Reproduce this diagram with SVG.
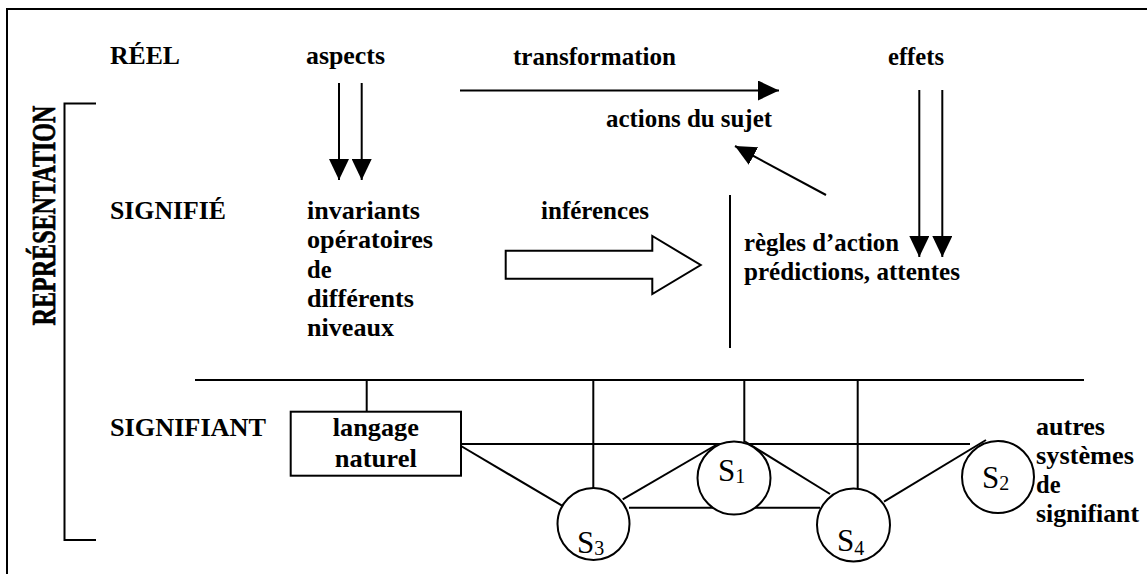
<svg xmlns="http://www.w3.org/2000/svg" width="1147" height="574" viewBox="0 0 1147 574">
<style>
.ln{stroke:#000;stroke-width:2;fill:none}
.c{stroke:#000;stroke-width:2;fill:#fff}
</style>
<defs>
<marker id="ah" markerUnits="userSpaceOnUse" markerWidth="22" markerHeight="20" refX="21" refY="10" orient="auto">
<path d="M0,0 L21,10 L0,20 z" fill="#000"/>
</marker>
</defs>
<rect width="1147" height="574" fill="#fff"/>
<g id="frame">
<path class="ln" d="M7,574 V9 H1147"/>
<path class="ln" d="M96,103.5 H64.5 V540 H96"/>
<text style="font-family:'Liberation Serif',serif;font-weight:bold;font-size:33px" fill="#000" stroke="#000" stroke-width="0.7" transform="translate(55,215.5) rotate(-90)" text-anchor="middle" textLength="220" lengthAdjust="spacingAndGlyphs">REPRÉSENTATION</text>
</g>
<g style="font-family:'Liberation Serif',serif;font-weight:bold;font-size:25px" fill="#000">
<g id="labels">
<text x="110" y="64" textLength="70" lengthAdjust="spacingAndGlyphs">RÉEL</text>
<text x="110" y="219" textLength="116" lengthAdjust="spacingAndGlyphs">SIGNIFIÉ</text>
<text x="110" y="436" textLength="156" lengthAdjust="spacingAndGlyphs">SIGNIFIANT</text>
</g>
<g id="node-aspects"><text x="306" y="64" textLength="79" lengthAdjust="spacingAndGlyphs">aspects</text></g>
<g id="node-transformation"><text x="513" y="65" textLength="163" lengthAdjust="spacingAndGlyphs">transformation</text></g>
<g id="node-effets"><text x="888" y="65" textLength="56" lengthAdjust="spacingAndGlyphs">effets</text></g>
<g id="node-actions"><text x="606" y="127" textLength="166" lengthAdjust="spacingAndGlyphs">actions du sujet</text></g>
<g id="node-invariants">
<text x="307" y="219" textLength="113" lengthAdjust="spacingAndGlyphs">invariants</text>
<text x="307" y="248.3" textLength="126" lengthAdjust="spacingAndGlyphs">opératoires</text>
<text x="307" y="277.5" textLength="24.5" lengthAdjust="spacingAndGlyphs">de</text>
<text x="307" y="306.7" textLength="107" lengthAdjust="spacingAndGlyphs">différents</text>
<text x="307" y="336" textLength="87" lengthAdjust="spacingAndGlyphs">niveaux</text>
</g>
<g id="node-inferences"><text x="541" y="219" textLength="108" lengthAdjust="spacingAndGlyphs">inférences</text></g>
<g id="node-regles">
<text x="744" y="250.5" textLength="155" lengthAdjust="spacingAndGlyphs">règles d’action</text>
<text x="744" y="280" textLength="216" lengthAdjust="spacingAndGlyphs">prédictions, attentes</text>
</g>
<g id="node-autres">
<text x="1036" y="435" textLength="69" lengthAdjust="spacingAndGlyphs">autres</text>
<text x="1036" y="464" textLength="98" lengthAdjust="spacingAndGlyphs">systèmes</text>
<text x="1036" y="493" textLength="24.5" lengthAdjust="spacingAndGlyphs">de</text>
<text x="1036" y="522" textLength="103" lengthAdjust="spacingAndGlyphs">signifiant</text>
</g>
</g>
<g id="connectors">
<line class="ln" x1="339" y1="83" x2="339" y2="180" marker-end="url(#ah)"/>
<line class="ln" x1="361.7" y1="83" x2="361.7" y2="180" marker-end="url(#ah)"/>
<line class="ln" x1="460" y1="90.5" x2="779" y2="90.5" marker-end="url(#ah)"/>
<line class="ln" x1="919.3" y1="90" x2="919.3" y2="257" marker-end="url(#ah)"/>
<line class="ln" x1="942.3" y1="90" x2="942.3" y2="257" marker-end="url(#ah)"/>
<line class="ln" x1="826" y1="195" x2="735" y2="146" marker-end="url(#ah)"/>
<polygon class="c" points="505.7,250.7 652.3,250.7 652.3,236 700.7,265 652.3,294 652.3,278.7 505.7,278.7"/>
<line class="ln" x1="730" y1="195" x2="730" y2="348"/>
<line class="ln" x1="195" y1="380" x2="1084" y2="380"/>
<line class="ln" x1="366.7" y1="380" x2="366.7" y2="411.7"/>
<line class="ln" x1="593.3" y1="380" x2="593.3" y2="488"/>
<line class="ln" x1="744.3" y1="380" x2="744.3" y2="442"/>
<line class="ln" x1="857.7" y1="380" x2="857.7" y2="489"/>
<line class="ln" x1="461" y1="444" x2="970" y2="444"/>
<line class="ln" x1="461" y1="446" x2="562" y2="505.7"/>
<line class="ln" x1="622.7" y1="499.3" x2="716" y2="445"/>
<line class="ln" x1="745" y1="441.5" x2="830" y2="494"/>
<line class="ln" x1="629" y1="507.7" x2="820" y2="507.7"/>
<line class="ln" x1="884" y1="501.7" x2="986" y2="440"/>
</g>
<g id="node-langage">
<rect class="c" x="290.7" y="411.7" width="170.3" height="64"/>
<text style="font-family:'Liberation Serif',serif;font-weight:bold;font-size:25px" fill="#000" x="375.8" y="436" text-anchor="middle" textLength="86" lengthAdjust="spacingAndGlyphs">langage</text>
<text style="font-family:'Liberation Serif',serif;font-weight:bold;font-size:25px" fill="#000" x="375.8" y="467" text-anchor="middle" textLength="82" lengthAdjust="spacingAndGlyphs">naturel</text>
</g>
<g style="font-family:'Liberation Serif',serif;font-size:31px" fill="#000">
<g id="node-S3">
<circle class="c" cx="593.5" cy="524" r="36"/>
<text x="577" y="552.5">S<tspan style="font-size:20px" dy="2">3</tspan></text>
</g>
<g id="node-S1">
<circle class="c" cx="734" cy="478" r="36.5"/>
<text x="718" y="481">S<tspan style="font-size:20px" dy="2">1</tspan></text>
</g>
<g id="node-S4">
<circle class="c" cx="853.5" cy="525" r="36.5"/>
<text x="837" y="551">S<tspan style="font-size:20px" dy="4">4</tspan></text>
</g>
<g id="node-S2">
<circle class="c" cx="998" cy="477" r="36"/>
<text x="982" y="488">S<tspan style="font-size:20px" dy="2">2</tspan></text>
</g>
</g>
</svg>
